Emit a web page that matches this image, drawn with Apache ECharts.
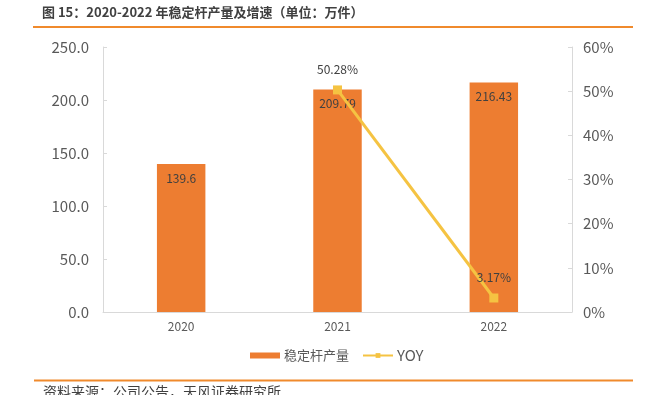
<!DOCTYPE html>
<html><head><meta charset="utf-8">
<script src="https://cdn.jsdelivr.net/npm/echarts@6/dist/echarts.min.js"></script>
<style>html,body{margin:0;padding:0;background:#fff;}#c{width:646px;height:395px;}</style>
</head><body><div id="c"></div>
<script>
const categories = ['2020', '2021', '2022'];
const production = [139.6, 209.79, 216.43];
const yoy = [null, 50.28, 3.17];
const leftTicks = [0, 50, 100, 150, 200, 250];
const rightTicks = [0, 10, 20, 30, 40, 50, 60];

const chart = echarts.init(document.getElementById('c'));
const font = "'Noto Sans CJK SC',sans-serif";
chart.setOption({
  animation: false,
  textStyle: { fontFamily: font },
  graphic: [
    { type: 'text', left: 42, top: 6, style: { text: '图 15：2020-2022 年稳定杆产量及增速（单位：万件）', font: "bold 13px 'Noto Sans CJK SC'", fill: '#404040' } },
    { type: 'rect', shape: { x: 33, y: 26, width: 600, height: 2 }, style: { fill: '#F08A2C' } },
    { type: 'rect', shape: { x: 34, y: 379.5, width: 599, height: 2 }, style: { fill: '#F08A2C' } },
    { type: 'text', left: 43, top: 385, style: { text: '资料来源：公司公告，天风证券研究所', font: "14px 'Noto Sans CJK SC'", fill: '#404040' } }
  ],
  legend: {
    top: 343, left: 245, itemGap: 13, itemWidth: 30, itemHeight: 6,
    textStyle: { color: '#595959', fontSize: 13, padding: [0, 0, 0, -1] },
    data: [{ name: '稳定杆产量', icon: 'rect' }, { name: 'YOY', textStyle: { fontSize: 15 } }]
  },
  grid: { left: 103, right: 74, top: 47, bottom: 83 },
  xAxis: {
    type: 'category', data: categories,
    axisLine: { lineStyle: { color: '#D9D9D9' } },
    axisTick: { show: false },
    axisLabel: { color: '#595959', fontSize: 12, margin: 8 }
  },
  yAxis: [
    {
      type: 'value', min: leftTicks[0], max: leftTicks[leftTicks.length - 1], interval: 50,
      axisLine: { show: true, lineStyle: { color: '#D9D9D9' } },
      axisTick: { show: true, inside: true, length: 4, lineStyle: { color: '#D9D9D9' } },
      splitLine: { show: false },
      axisLabel: { color: '#595959', fontSize: 15, margin: 14, formatter: v => v.toFixed(1) }
    },
    {
      type: 'value', min: rightTicks[0], max: rightTicks[rightTicks.length - 1], interval: 10,
      axisLine: { show: true, lineStyle: { color: '#D9D9D9' } },
      axisTick: { show: true, inside: true, length: 4, lineStyle: { color: '#D9D9D9' } },
      splitLine: { show: false },
      axisLabel: { color: '#595959', fontSize: 15, margin: 11, formatter: '{value}%' }
    }
  ],
  series: [
    {
      name: '稳定杆产量', type: 'bar', data: production, barWidth: '31%',
      itemStyle: { color: '#ED7D31' },
      label: { show: true, position: 'insideTop', distance: 8, color: '#404040', fontSize: 12 }
    },
    {
      name: 'YOY', type: 'line', yAxisIndex: 1, data: yoy,
      symbol: 'rect', symbolSize: 9,
      lineStyle: { color: '#F5C342', width: 3 },
      itemStyle: { color: '#F5C342' },
      label: { show: true, position: 'top', distance: 10, color: '#404040', fontSize: 12, formatter: p => p.value.toFixed(2) + '%' }
    }
  ]
});
</script></body></html>
